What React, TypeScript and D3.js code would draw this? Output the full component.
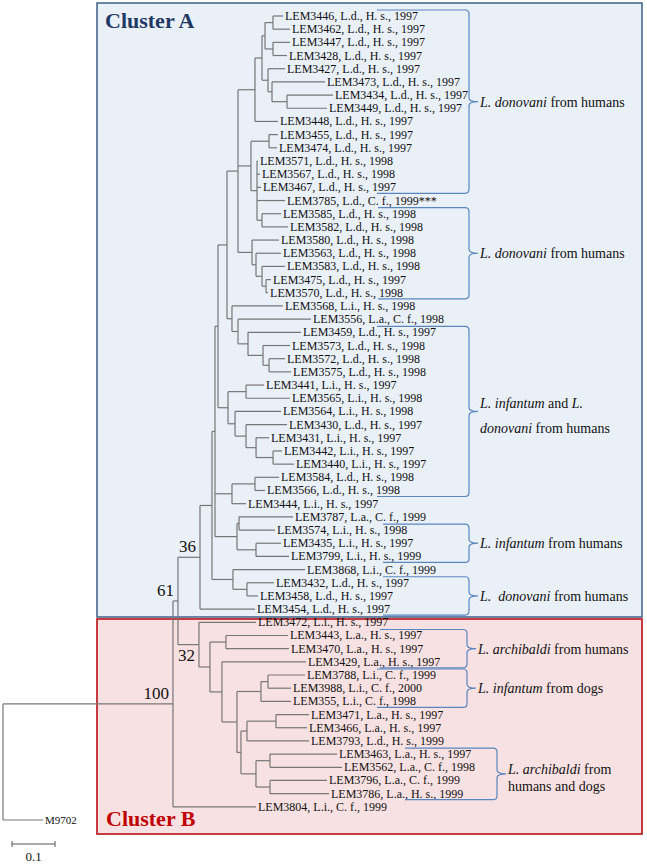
import React from "react";
import * as d3 from "d3";

const W = 647;
const H = 864;

// ---------- Tree (Newick clades, branch lengths in substitutions/site) ----------
const A1 = `((LEM3446:0.0233,LEM3462:0.0395):0.0186,(LEM3447:0.0395,LEM3428:0.0326):0.0186)`;
const C1 = `(LEM3427:0.0395,(LEM3473:0.1233,(LEM3434:0.1070,LEM3449:0.0930):0.0349):0.0093)`;
const ATOP = `((${A1}:0.0070,${C1}:0.0140):0.0163,LEM3448:0.0535)`;
const F1 = `((LEM3455:0.0209,LEM3474:0.0186):0.0419,(LEM3571:0.0023,LEM3567:0.0070,LEM3467:0.0093,LEM3785:0.0651,(LEM3585:0.0442,LEM3582:0.0605):0.0116):0.0140)`;
const H1 = `(LEM3580:0.0628,(LEM3563:0.0581,(LEM3583:0.0535,(LEM3475:0.0116,LEM3570:0.0047):0.0093):0.0140):0.0093)`;
const M1 = `(LEM3568:0.1186,(LEM3556:0.1698,(LEM3459:0.1233,(LEM3573:0.0628,(LEM3572:0.0372,LEM3575:0.0512):0.0140):0.0349):0.0233):0.0140)`;
const P1 = `((LEM3441:0.0419,LEM3565:0.1023):0.0419,(LEM3564:0.1070,(LEM3430:0.0953,(LEM3431:0.0302,(LEM3442:0.0209,LEM3440:0.0488):0.0395):0.0233):0.0256):0.0163)`;
const V1 = `((LEM3584:0.0558,LEM3566:0.0233):0.0535,LEM3444:0.0326)`;
const W1 = `((LEM3787:0.1256,LEM3574:0.0837):0.0047,(LEM3435:0.0581,LEM3799:0.0767):0.0442)`;
const T1 = `(LEM3868:0.1674,(LEM3432:0.0628,LEM3458:0.0256):0.0326)`;
const L1 = `((${ATOP}:0.0395,${F1}:0.0302,${H1}:0.0326):0.0256,${M1}:0.0116)`;
const K1 = `(${L1}:0.0209,${P1}:0.0233)`;
const U1 = `(${K1}:0.0070,${V1}:0.0395,${W1}:0.0512)`;
const S1 = `(${U1}:0.0070,${T1}:0.0488)`;
const N36 = `(${S1}:0.0279,LEM3454:0.1279)N36`;

const Y1 = `(LEM3443:0.1442,LEM3470:0.1465)`;
const N21 = `((LEM3788:0.0860,LEM3988:0.0535):0.0163,LEM355:0.0698)`;
const AB1 = `(((LEM3471:0.0767,LEM3466:0.0721):0.0674,LEM3793:0.1442):0.0140,((LEM3463:0.1558,LEM3562:0.1674):0.0326,(LEM3796:0.1326,LEM3786:0.1372):0.0326):0.0349)`;
const Z1 = `(LEM3429:0.1953,(${N21}:0.0558,${AB1}:0.0093):0.0349)`;
const N32 = `(LEM3472:0.1326,(${Y1}:0.0372,${Z1}:0.0279):0.0256)N32`;
const N61 = `(${N36}:0.0512,${N32}:0.0488)N61`;
const TREE = `((${N61}:0.0116,LEM3804:0.1930)N100:0.3953,M9702:0.0930);`;

// ---------- Leaf annotations: id, species, host, year ----------
const LEAF_INFO: [string, string, string, string][] = [
  ["LEM3446", "L.d.", "H. s.", "1997"],
  ["LEM3462", "L.d.", "H. s.", "1997"],
  ["LEM3447", "L.d.", "H. s.", "1997"],
  ["LEM3428", "L.d.", "H. s.", "1997"],
  ["LEM3427", "L.d.", "H. s.", "1997"],
  ["LEM3473", "L.d.", "H. s.", "1997"],
  ["LEM3434", "L.d.", "H. s.", "1997"],
  ["LEM3449", "L.d.", "H. s.", "1997"],
  ["LEM3448", "L.d.", "H. s.", "1997"],
  ["LEM3455", "L.d.", "H. s.", "1997"],
  ["LEM3474", "L.d.", "H. s.", "1997"],
  ["LEM3571", "L.d.", "H. s.", "1998"],
  ["LEM3567", "L.d.", "H. s.", "1998"],
  ["LEM3467", "L.d.", "H. s.", "1997"],
  ["LEM3785", "L.d.", "C. f.", "1999***"],
  ["LEM3585", "L.d.", "H. s.", "1998"],
  ["LEM3582", "L.d.", "H. s.", "1998"],
  ["LEM3580", "L.d.", "H. s.", "1998"],
  ["LEM3563", "L.d.", "H. s.", "1998"],
  ["LEM3583", "L.d.", "H. s.", "1998"],
  ["LEM3475", "L.d.", "H. s.", "1997"],
  ["LEM3570", "L.d.", "H. s.", "1998"],
  ["LEM3568", "L.i.", "H. s.", "1998"],
  ["LEM3556", "L.a.", "C. f.", "1998"],
  ["LEM3459", "L.d.", "H. s.", "1997"],
  ["LEM3573", "L.d.", "H. s.", "1998"],
  ["LEM3572", "L.d.", "H. s.", "1998"],
  ["LEM3575", "L.d.", "H. s.", "1998"],
  ["LEM3441", "L.i.", "H. s.", "1997"],
  ["LEM3565", "L.i.", "H. s.", "1998"],
  ["LEM3564", "L.i.", "H. s.", "1998"],
  ["LEM3430", "L.d.", "H. s.", "1997"],
  ["LEM3431", "L.i.", "H. s.", "1997"],
  ["LEM3442", "L.i.", "H. s.", "1997"],
  ["LEM3440", "L.i.", "H. s.", "1997"],
  ["LEM3584", "L.d.", "H. s.", "1998"],
  ["LEM3566", "L.d.", "H. s.", "1998"],
  ["LEM3444", "L.i.", "H. s.", "1997"],
  ["LEM3787", "L.a.", "C. f.", "1999"],
  ["LEM3574", "L.i.", "H. s.", "1998"],
  ["LEM3435", "L.i.", "H. s.", "1997"],
  ["LEM3799", "L.i.", "H. s.", "1999"],
  ["LEM3868", "L.i.", "C. f.", "1999"],
  ["LEM3432", "L.d.", "H. s.", "1997"],
  ["LEM3458", "L.d.", "H. s.", "1997"],
  ["LEM3454", "L.d.", "H. s.", "1997"],
  ["LEM3472", "L.i.", "H. s.", "1997"],
  ["LEM3443", "L.a.", "H. s.", "1997"],
  ["LEM3470", "L.a.", "H. s.", "1997"],
  ["LEM3429", "L.a.", "H. s.", "1997"],
  ["LEM3788", "L.i.", "C. f.", "1999"],
  ["LEM3988", "L.i.", "C. f.", "2000"],
  ["LEM355", "L.i.", "C. f.", "1998"],
  ["LEM3471", "L.a.", "H. s.", "1997"],
  ["LEM3466", "L.a.", "H. s.", "1997"],
  ["LEM3793", "L.d.", "H. s.", "1999"],
  ["LEM3463", "L.a.", "H. s.", "1997"],
  ["LEM3562", "L.a.", "C. f.", "1998"],
  ["LEM3796", "L.a.", "C. f.", "1999"],
  ["LEM3786", "L.a.", "H. s.", "1999"],
  ["LEM3804", "L.i.", "C. f.", "1999"],
];

// ---------- Bootstrap support ----------
const BOOT_NODES = ["N100", "N61", "N36", "N32"];
const BOOT_VALUES = ["100", "61", "36", "32"];
const BOOT_BELOW = [false, false, false, true];

// ---------- Group brackets ----------
type Seg = { t: string; i?: boolean };
const BRACKET_FIRST = ["LEM3446", "LEM3585", "LEM3459", "LEM3574", "LEM3432", "LEM3443", "LEM3788", "LEM3463"];
const BRACKET_LAST = ["LEM3467", "LEM3570", "LEM3566", "LEM3799", "LEM3454", "LEM3429", "LEM355", "LEM3786"];
const BRACKET_TEXT: Seg[][][] = [
  [[{ t: "L. donovani", i: true }, { t: " from humans" }]],
  [[{ t: "L. donovani", i: true }, { t: " from humans" }]],
  [
    [{ t: "L. infantum", i: true }, { t: " and " }, { t: "L.", i: true }],
    [{ t: "donovani", i: true }, { t: " from humans" }],
  ],
  [[{ t: "L. infantum", i: true }, { t: " from humans" }]],
  [[{ t: "L.\u00A0 donovani", i: true }, { t: " from humans" }]],
  [[{ t: "L. archibaldi", i: true }, { t: " from humans" }]],
  [[{ t: "L. infantum", i: true }, { t: " from dogs" }]],
  [
    [{ t: "L. archibaldi", i: true }, { t: " from" }],
    [{ t: "humans and dogs" }],
  ],
];
const BRACKET_VX = [469, 469, 469, 469, 469, 467, 467, 497];
const BRACKET_LEFT = [377, 378, 377, 383, 383, 380, 377, 405];
const BRACKET_LH = [0, 0, 25, 0, 0, 0, 0, 17];

// ---------- Newick parser ----------
type TNode = { name: string; length: number; children?: TNode[] };
function parseNewick(s: string): TNode {
  let i = 0;
  function node(): TNode {
    const n: TNode = { name: "", length: 0 };
    if (s[i] === "(") {
      i++;
      n.children = [];
      for (;;) {
        n.children.push(node());
        if (s[i] === ",") { i++; continue; }
        if (s[i] === ")") { i++; break; }
        break;
      }
    }
    let name = "";
    while (i < s.length && !",():;".includes(s[i])) name += s[i++];
    n.name = name.trim();
    if (s[i] === ":") {
      i++;
      let num = "";
      while (i < s.length && !",();".includes(s[i])) num += s[i++];
      n.length = parseFloat(num);
    }
    return n;
  }
  return node();
}

const FONT = "'Liberation Serif', 'Times New Roman', serif";
const TREE_COLOR = "#767676";
const BRACKET_COLOR = "#5a86c0";

export default function App() {
  const root = d3.hierarchy<TNode>(parseNewick(TREE));
  const depth = new Map<any, number>();
  root.eachBefore((n) => {
    depth.set(n, (n.parent ? depth.get(n.parent)! : 0) + (n.parent ? n.data.length : 0));
  });
  const leaves = root.leaves();
  const x = d3.scaleLinear().domain([0, 0.1]).range([3, 46]);
  const y = d3.scalePoint<string>().domain(leaves.map((l) => l.data.name)).range([16, 820]);
  const pos = new Map<any, { x: number; y: number }>();
  root.eachAfter((n) => {
    const px = x(depth.get(n)!);
    let py: number;
    if (n.children && n.children.length) {
      const a = pos.get(n.children[0])!.y;
      const b = pos.get(n.children[n.children.length - 1])!.y;
      py = (a + b) / 2;
    } else {
      py = y(n.data.name)!;
    }
    pos.set(n, { x: px, y: py });
  });

  const info = new Map(LEAF_INFO.map((d) => [d[0], d]));
  const lines: JSX.Element[] = [];
  let k = 0;
  root.each((n) => {
    const p = pos.get(n)!;
    if (n.parent) {
      const pp = pos.get(n.parent)!;
      lines.push(<line key={k++} x1={pp.x} x2={p.x} y1={p.y} y2={p.y} />);
    }
    if (n.children && n.children.length > 1) {
      const a = pos.get(n.children[0])!.y;
      const b = pos.get(n.children[n.children.length - 1])!.y;
      lines.push(<line key={k++} x1={p.x} x2={p.x} y1={a} y2={b} />);
    }
  });

  const nodeByName = new Map<string, any>();
  root.each((n) => { if (n.data.name) nodeByName.set(n.data.name, n); });

  const brackets = BRACKET_FIRST.map((f, bi) => {
    const top = y(f)! - 6;
    const bot = y(BRACKET_LAST[bi])! + 6;
    const ny = (top + bot) / 2;
    const vx = BRACKET_VX[bi];
    const lx = BRACKET_LEFT[bi];
    const r = 4;
    const d = `M${lx},${top} L${vx - r},${top} Q${vx},${top} ${vx},${top + r} L${vx},${ny - 4} Q${vx},${ny} ${vx + 9},${ny} Q${vx},${ny} ${vx},${ny + 4} L${vx},${bot - r} Q${vx},${bot} ${vx - r},${bot} L${lx},${bot}`;
    const nl = BRACKET_TEXT[bi].length;
    const lh = BRACKET_LH[bi];
    const y0 = ny + 5 - ((nl - 1) * lh) / 2 + (nl > 1 ? 4 : 0);
    return (
      <g key={bi}>
        <path d={d} fill="none" stroke={BRACKET_COLOR} strokeWidth={1.2} />
        {BRACKET_TEXT[bi].map((segs, li) => (
          <text key={li} x={vx + 11} y={y0 + li * lh} fontSize={14} fontFamily={FONT} fill="#111" xmlSpace="preserve">
            {segs.map((s, si) => (
              <tspan key={si} fontStyle={s.i ? "italic" : "normal"}>{s.t}</tspan>
            ))}
          </text>
        ))}
      </g>
    );
  });

  const sb0 = 12;
  const sbLen = x(0.1) - x(0);

  return (
    <svg width={W} height={H} style={{ position: "absolute", left: 0, top: 0, background: "#fff" }}>
      <rect x={97} y={3} width={545} height={614} fill="#eaf0f8" stroke="#3d5f86" strokeWidth={1.5} />
      <rect x={97} y={619} width={545} height={215} fill="#f8e1e2" stroke="#c0272d" strokeWidth={1.8} />
      <text x={105} y={28} fontSize={22} fontWeight="bold" fontFamily={FONT} fill="#1f3864">Cluster A</text>
      <text x={106} y={826} fontSize={22} fontWeight="bold" fontFamily={FONT} fill="#c00000">Cluster B</text>

      <g stroke={TREE_COLOR} strokeWidth={1.2} fill="none">{lines}</g>

      {leaves.map((l, i) => {
        const p = pos.get(l)!;
        const d = info.get(l.data.name);
        const label = d ? `${d[0]}, ${d[1]}, ${d[2]}, ${d[3]}` : l.data.name;
        return (
          <text key={i} x={p.x + 2} y={p.y + 4} fontSize={d ? 12 : 11} fontFamily={FONT} fill="#111">
            {label}
          </text>
        );
      })}

      {BOOT_NODES.map((nm, i) => {
        const n = nodeByName.get(nm);
        const p = pos.get(n)!;
        return (
          <text key={nm} x={p.x - 4} y={BOOT_BELOW[i] ? p.y + 16 : p.y - 5} textAnchor="end" fontSize={17} fontFamily={FONT} fill="#111">
            {BOOT_VALUES[i]}
          </text>
        );
      })}

      {brackets}

      <g stroke="#555" strokeWidth={1}>
        <line x1={sb0} x2={sb0 + sbLen} y1={844} y2={844} />
        <line x1={sb0} x2={sb0} y1={841} y2={847} />
        <line x1={sb0 + sbLen} x2={sb0 + sbLen} y1={841} y2={847} />
      </g>
      <text x={sb0 + sbLen / 2} y={861} textAnchor="middle" fontSize={13} fontFamily={FONT} fill="#111">0.1</text>
    </svg>
  );
}
